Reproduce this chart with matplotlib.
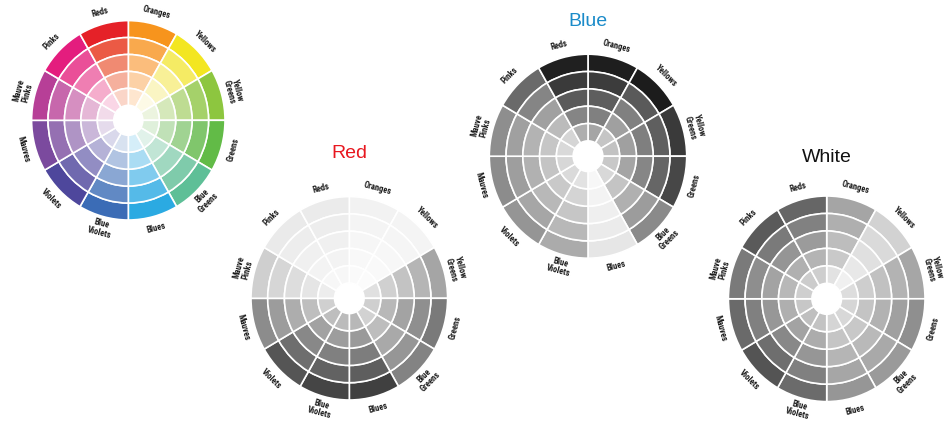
import math
import matplotlib
matplotlib.use("Agg")
import matplotlib.pyplot as plt

# ---------------- data ----------------
sectors = ["Oranges", "Yellows", "Yellow\nGreens", "Greens", "Blue\nGreens", "Blues",
           "Blue\nViolets", "Violets", "Mauves", "Mauve\nPinks", "Pinks", "Reds"]
sector_share = [1, 1, 1, 1, 1, 1, 1, 1, 1, 1, 1, 1]

# each sector: colours from outer ring to inner ring
hue_wheel = [
    ["#F7941D", "#F9A94D", "#FBBD7C", "#FCD1A6", "#FEE6CF"],  # Oranges
    ["#F3E621", "#F5EB64", "#F8F097", "#FAF5C3", "#FDFAE6"],  # Yellows
    ["#8DC63F", "#A5D16A", "#BEDC92", "#D5E8BA", "#ECF4DF"],  # Yellow Greens
    ["#62BB47", "#80C66C", "#A0D392", "#C0E1B7", "#DFF0DB"],  # Greens
    ["#5EBF97", "#7FCBAB", "#A0D8C0", "#C1E5D5", "#E1F2EA"],  # Blue Greens
    ["#2BAAE2", "#55BAE8", "#80CBEE", "#AADCF3", "#D5EEF9"],  # Blues
    ["#3B6CB6", "#6189C4", "#8AA7D3", "#B1C4E2", "#D8E2F0"],  # Blue Violets
    ["#4E479C", "#7069AF", "#928DC3", "#B5B2D7", "#D9D8EB"],  # Violets
    ["#7B4A9E", "#9570B2", "#AF94C5", "#CAB7D9", "#E5DBEC"],  # Mauves
    ["#B73F97", "#C767AC", "#D68FC1", "#E5B7D6", "#F2DBEA"],  # Mauve Pinks
    ["#E41D7E", "#EA4F98", "#EF7EB2", "#F5ADCC", "#FAD6E6"],  # Pinks
    ["#E52128", "#EB5A45", "#F08A72", "#F5B09D", "#FAD5C8"],  # Reds
]

red_wheel = [
    ["#F2F2F2", "#F4F4F4", "#F6F6F6", "#F8F8F8", "#FAFAFA"],
    ["#F4F4F4", "#F5F5F5", "#F7F7F7", "#F9F9F9", "#FBFBFB"],
    ["#A5A5A5", "#B5B5B5", "#C3C3C3", "#D0D0D0", "#E0E0E0"],
    ["#7A7A7A", "#8F8F8F", "#A3A3A3", "#B8B8B8", "#CFCFCF"],
    ["#838383", "#969696", "#A9A9A9", "#BDBDBD", "#D2D2D2"],
    ["#404040", "#5E5E5E", "#7D7D7D", "#9A9A9A", "#B8B8B8"],
    ["#454545", "#626262", "#808080", "#9D9D9D", "#BBBBBB"],
    ["#555555", "#6E6E6E", "#888888", "#A2A2A2", "#BEBEBE"],
    ["#8C8C8C", "#9C9C9C", "#ADADAD", "#BEBEBE", "#D0D0D0"],
    ["#CFCFCF", "#D6D6D6", "#DDDDDD", "#E5E5E5", "#EDEDED"],
    ["#EAEAEA", "#EDEDED", "#F0F0F0", "#F3F3F3", "#F7F7F7"],
    ["#EBEBEB", "#EDEDED", "#F0F0F0", "#F3F3F3", "#F7F7F7"],
]

blue_wheel = [
    ["#1E1E1E", "#3C3C3C", "#5E5E5E", "#808080", "#A5A5A5"],
    ["#1C1C1C", "#5A5A5A", "#808080", "#A0A0A0", "#C5C5C5"],
    ["#3A3A3A", "#5F5F5F", "#7F7F7F", "#A0A0A0", "#C2C2C2"],
    ["#474747", "#666666", "#868686", "#A5A5A5", "#C8C8C8"],
    ["#8A8A8A", "#9C9C9C", "#B0B0B0", "#C4C4C4", "#D8D8D8"],
    ["#E6E6E6", "#EBEBEB", "#EFEFEF", "#F3F3F3", "#F7F7F7"],
    ["#ABABAB", "#B8B8B8", "#C6C6C6", "#D4D4D4", "#E2E2E2"],
    ["#959595", "#A6A6A6", "#B8B8B8", "#C9C9C9", "#DADADA"],
    ["#8C8C8C", "#9E9E9E", "#B1B1B1", "#C4C4C4", "#D7D7D7"],
    ["#8E8E8E", "#A0A0A0", "#B3B3B3", "#C6C6C6", "#D9D9D9"],
    ["#6A6A6A", "#858585", "#A0A0A0", "#BBBBBB", "#D5D5D5"],
    ["#202020", "#3A3A3A", "#5A5A5A", "#858585", "#AEAEAE"],
]

white_wheel = [
    ["#A5A5A5", "#AFAFAF", "#BDBDBD", "#C9C9C9", "#E2E2E2"],
    ["#D2D2D2", "#DADADA", "#E0E0E0", "#E8E8E8", "#F0F0F0"],
    ["#A6A6A6", "#B3B3B3", "#C1C1C1", "#CECECE", "#DDDDDD"],
    ["#8F8F8F", "#A0A0A0", "#B2B2B2", "#C4C4C4", "#D6D6D6"],
    ["#9A9A9A", "#A9A9A9", "#B9B9B9", "#C8C8C8", "#D8D8D8"],
    ["#969696", "#A6A6A6", "#B5B5B5", "#C5C5C5", "#D5D5D5"],
    ["#6B6B6B", "#808080", "#969696", "#ACACAC", "#C3C3C3"],
    ["#545454", "#6E6E6E", "#888888", "#A3A3A3", "#BFBFBF"],
    ["#6A6A6A", "#808080", "#979797", "#AFAFAF", "#C7C7C7"],
    ["#7A7A7A", "#8E8E8E", "#A3A3A3", "#B8B8B8", "#CFCFCF"],
    ["#5A5A5A", "#7A7A7A", "#959595", "#B0B0B0", "#CCCCCC"],
    ["#666666", "#818181", "#9B9B9B", "#B4B4B4", "#CECECE"],
]

titles = ["", "Red", "Blue", "White"]
title_colors = ["black", "#E8171F", "#1B8BC9", "#111111"]

# ---------------- layout ----------------
W, H = 947, 421
fig = plt.figure(figsize=(W / 100, H / 100), dpi=100)
fig.patch.set_facecolor("white")

LABEL_FONT = ["Liberation Sans Narrow", "Roboto Condensed", "Liberation Sans", "DejaVu Sans"]
TITLE_FONT = ["Liberation Sans", "DejaVu Sans"]

wheels = [hue_wheel, red_wheel, blue_wheel, white_wheel]
# centre x, centre y (pixels from top), radius x, radius y, title y
geom = [
    (128.3, 120.3, 96.7, 99.7, None),
    (349.3, 298.3, 98.3, 101.7, 153),
    (588.0, 156.2, 98.7, 102.0, 22),
    (826.7, 298.8, 98.3, 102.8, 157),
]

n_rings = 5
hole = 0.15
ring_w = (1 - hole) / n_rings
half = 135  # half size of axes in pixels

for wheel, (cx, cy, rx, ry, ty), title, tcol in zip(wheels, geom, titles, title_colors):
    ax = fig.add_axes([(cx - half) / W, (H - cy - half) / H, 2 * half / W, 2 * half / H])
    for k in range(n_rings):
        ax.pie(sector_share, radius=1 - k * ring_w, startangle=90, counterclock=False,
               colors=[s[k] for s in wheel],
               wedgeprops=dict(width=ring_w, edgecolor="white", linewidth=1.2))
    ax.set_aspect("auto")
    ax.set_xlim(-half / rx, half / rx)
    ax.set_ylim(-half / ry, half / ry)
    ax.axis("off")

    for i, lab in enumerate(sectors):
        th = 90 - 15 - 30 * i
        if th <= -180:
            th += 360
        rot = th - 90 if th > 0 else th + 90
        rl = 1.12
        ax.text(rl * math.cos(math.radians(th)), rl * math.sin(math.radians(th)), lab,
                rotation=rot, rotation_mode="anchor", ha="center", va="center",
                fontsize=6.2, fontweight="bold", family=LABEL_FONT,
                color="#1a1a1a", linespacing=0.95)

    if title:
        fig.text(cx / W, 1 - ty / H, title, ha="center", va="center",
                 fontsize=14, color=tcol, family=TITLE_FONT)

fig.savefig("out.png", dpi=100, facecolor="white")
